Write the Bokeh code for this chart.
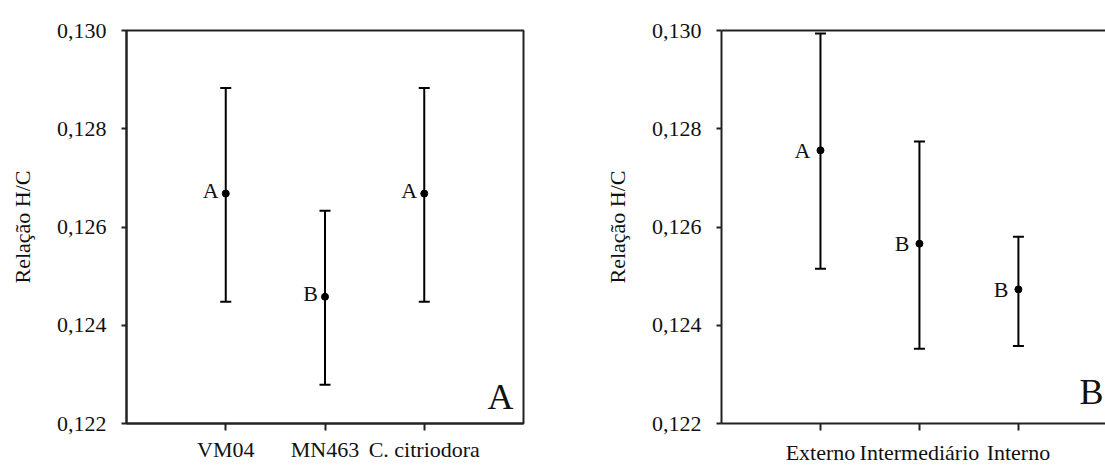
from bokeh.plotting import figure
from bokeh.models import (ColumnDataSource, Whisker, TeeHead, FixedTicker,
                          LinearAxis, Label, Range1d)
from bokeh.layouts import row
from bokeh.embed import file_html
from bokeh.resources import INLINE

# ---- data ----
groups_a = ["VM04", "MN463", "C. citriodora"]
mean_a = [0.12668, 0.12458, 0.12668]
upper_a = [0.12883, 0.12633, 0.12883]
lower_a = [0.12448, 0.12279, 0.12448]
letters_a = ["A", "B", "A"]

groups_b = ["Externo", "Intermediário", "Interno"]
mean_b = [0.12756, 0.12566, 0.12473]
upper_b = [0.12994, 0.12774, 0.12580]
lower_b = [0.12515, 0.12352, 0.12358]
letters_b = ["A", "B", "B"]

y_ticks = [0.122, 0.124, 0.126, 0.128, 0.130]
y_tick_labels = ["0,122", "0,124", "0,126", "0,128", "0,130"]
y_label = "Relação H/C"
panel_labels = ["A", "B"]

FONT = "Liberation Serif"
INK = "#111111"
LINE = "#222222"
H = 467


def make_panel(groups, mean, upper, lower, letters, width, x_end,
               mb_left, mb_right, mb_top, mb_bottom, x_standoff,
               let_dx, let_dy, full_outline):
    pos = list(range(1, len(groups) + 1))
    src = ColumnDataSource(dict(x=pos, m=mean, up=upper, lo=lower, t=letters))
    p = figure(width=width, height=H, x_range=Range1d(0, x_end),
               y_range=Range1d(y_ticks[0], y_ticks[-1]),
               output_backend="svg", toolbar_location=None,
               min_border_left=mb_left, min_border_right=mb_right,
               min_border_top=mb_top, min_border_bottom=mb_bottom,
               background_fill_color="white", border_fill_color="white")
    p.grid.visible = False

    # y axis
    ya = p.yaxis[0]
    ya.ticker = FixedTicker(ticks=y_ticks)
    ya.major_label_overrides = dict(zip(y_ticks, y_tick_labels))
    ya.axis_label = y_label
    ya.axis_label_text_font = FONT
    ya.axis_label_text_font_style = "normal"
    ya.axis_label_text_font_size = "22px"
    ya.axis_label_text_color = INK
    ya.axis_label_standoff = 19
    ya.major_label_text_font = FONT
    ya.major_label_text_font_size = "22px"
    ya.major_label_text_color = INK
    ya.major_label_standoff = 15
    ya.major_tick_in = 0
    ya.major_tick_out = 5
    ya.minor_tick_line_color = None
    ya.axis_line_color = LINE
    ya.axis_line_width = 2
    ya.major_tick_line_color = LINE
    ya.major_tick_line_width = 2

    # x axis (below)
    xa = p.xaxis[0]
    xa.ticker = FixedTicker(ticks=pos)
    xa.major_label_overrides = dict(zip(pos, groups))
    xa.major_label_text_font = FONT
    xa.major_label_text_font_size = "22px"
    xa.major_label_text_color = INK
    xa.major_label_standoff = x_standoff
    xa.major_tick_in = 0
    xa.major_tick_out = 7
    xa.minor_tick_line_color = None
    xa.axis_line_color = LINE
    xa.axis_line_width = 2
    xa.major_tick_line_color = LINE
    xa.major_tick_line_width = 2

    if full_outline:
        p.outline_line_color = LINE
        p.outline_line_width = 2
    else:
        p.outline_line_color = None
        top = LinearAxis(ticker=FixedTicker(ticks=[]),
                         axis_line_color=LINE, axis_line_width=2,
                         major_tick_line_color=None, minor_tick_line_color=None,
                         major_tick_in=0, major_tick_out=0,
                         major_label_text_font_size="0px",
                         major_label_standoff=0)
        p.add_layout(top, "above")

    w = Whisker(source=src, base="x", upper="up", lower="lo",
                line_color="black", line_width=2,
                upper_head=TeeHead(size=11, line_color="black", line_width=2),
                lower_head=TeeHead(size=11, line_color="black", line_width=2))
    p.add_layout(w)
    p.scatter("x", "m", source=src, size=7, color="black")
    p.text("x", "m", text="t", source=src, text_align="right",
           text_baseline="middle", x_offset=let_dx, y_offset=let_dy,
           text_font=FONT, text_font_size="22px", text_color=INK)
    return p


p1 = make_panel(groups_a, mean_a, upper_a, lower_a, letters_a, width=560,
                x_end=4.0, mb_left=126, mb_right=37, mb_top=28, mb_bottom=42,
                x_standoff=6, let_dx=-7, let_dy=-3, full_outline=True)
p1.add_layout(Label(x=3.9, y=0.12254, text=panel_labels[0], text_align="right",
                    text_baseline="alphabetic",
                    text_font=FONT, text_font_size="36px", text_color=INK))

p2 = make_panel(groups_b, mean_b, upper_b, lower_b, letters_b, width=545,
                x_end=3.88, mb_left=161, mb_right=0, mb_top=30, mb_bottom=41,
                x_standoff=9, let_dx=-10, let_dy=0, full_outline=False)
p2.add_layout(Label(x=3.86, y=0.12264, text=panel_labels[1], text_align="right",
                    text_baseline="alphabetic",
                    text_font=FONT, text_font_size="36px", text_color=INK))

layout = row(p1, p2)
open("out.html", "w").write(file_html(layout, INLINE))
